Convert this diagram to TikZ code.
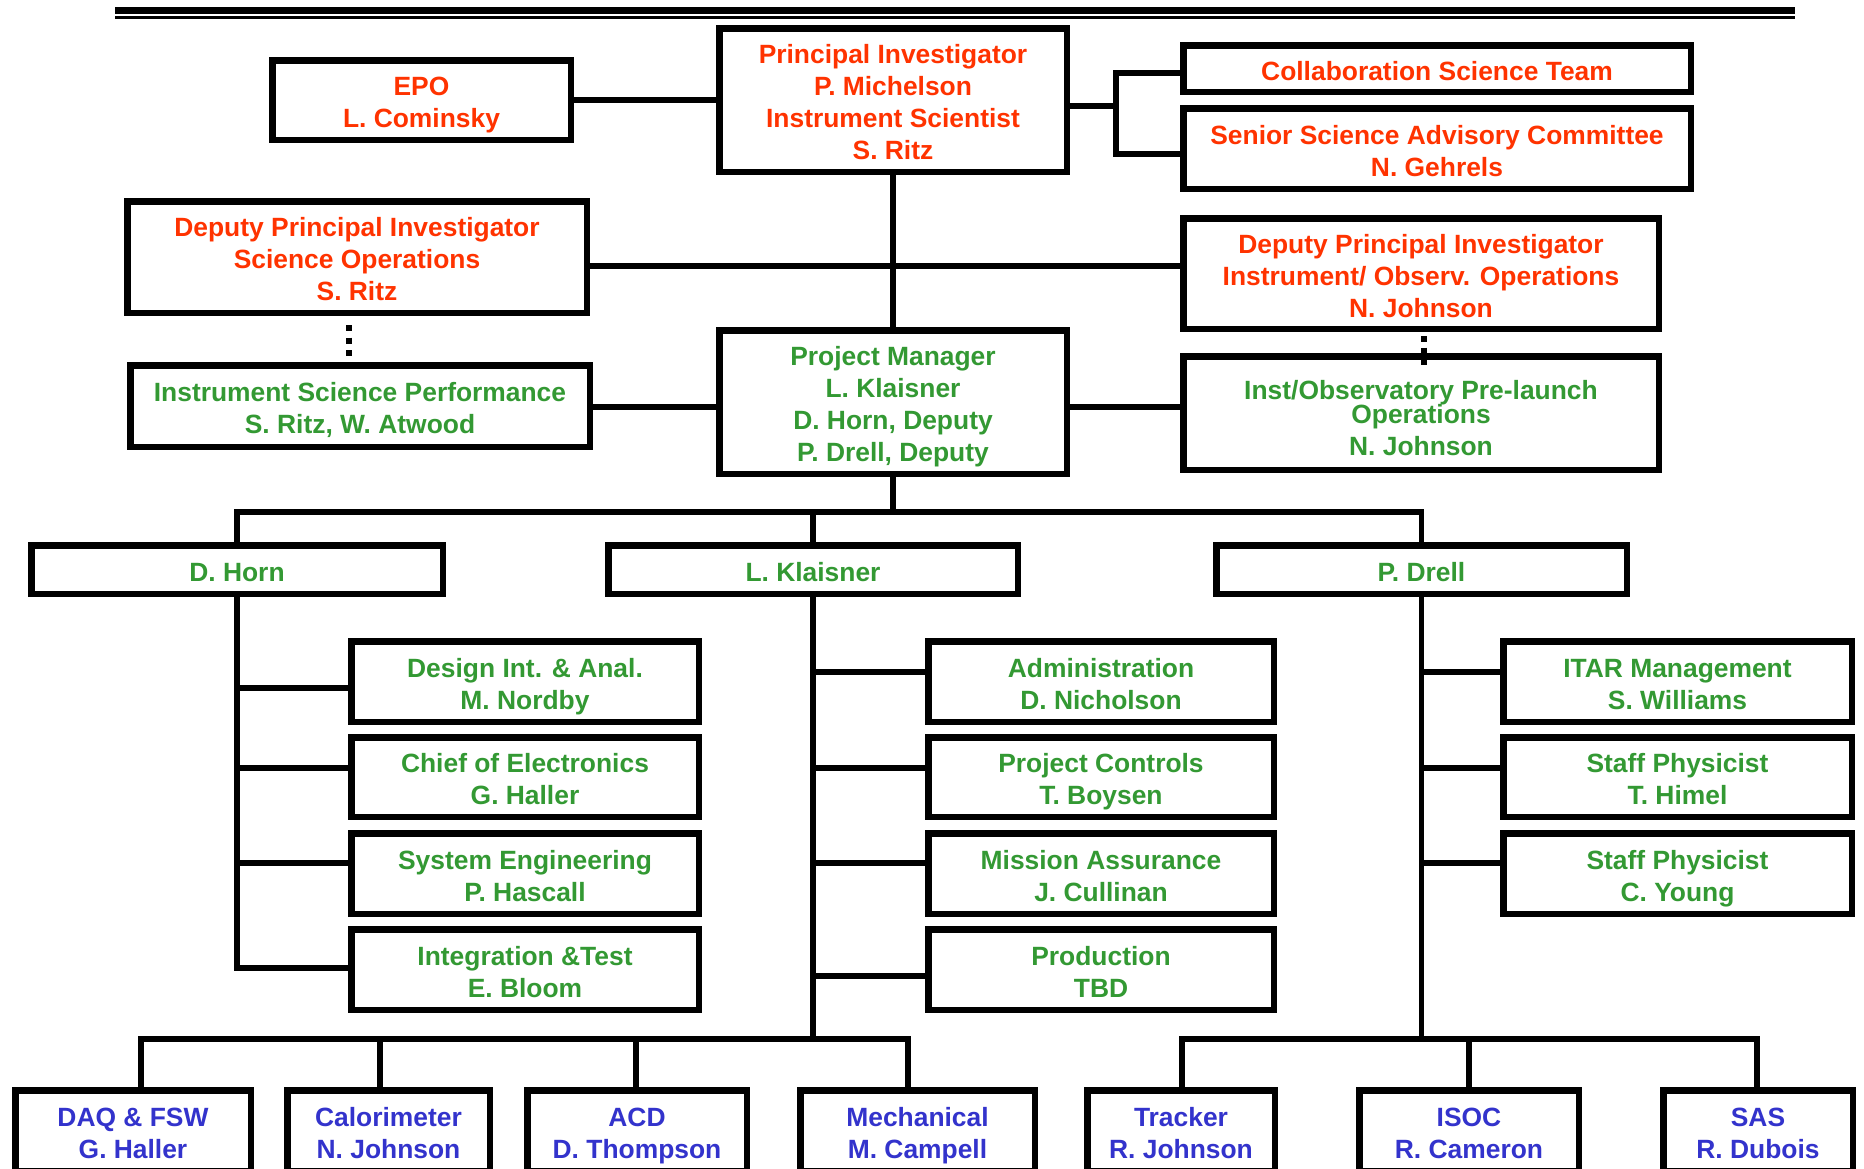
\documentclass[tikz,border=0pt]{standalone}
\usepackage{fontspec}
\setmainfont{Liberation Sans}
\definecolor{ored}{HTML}{FF3300}
\definecolor{ogreen}{HTML}{339933}
\definecolor{oblue}{HTML}{3333CC}
\tikzset{
  orgbox/.style={draw=black, line width=6.5pt, inner sep=1pt, align=center,
    font=\bfseries\fontsize{26.4}{32}\selectfont},
  conn/.style={line width=5.5pt, draw=black},
  dotconn/.style={line width=6pt, draw=black},
}
\newcommand\obox[7]{\node[orgbox, text=#6, minimum width={#4-#2-6.5}, minimum height={#5-#3-6.5}] (#1) at ({(#2+#4)/2},{(#3+#5)/2}) {\rule{0pt}{30pt}#7\rule[-7pt]{0pt}{7pt}};}
\begin{document}
\begin{tikzpicture}[x=1pt,y=-1pt]
\useasboundingbox (0,0) rectangle (1864,1168);
\clip (0,0) rectangle (1864,1168);
\fill[white] (0,0) rectangle (1864,1168);
% top rules
\draw[line width=7pt] (115,10.5) -- (1795,10.5);
\draw[line width=3pt] (115,17.5) -- (1795,17.5);
% boxes (outer edges)
\obox{epo}{269}{57}{574}{143}{ored}{EPO\\L. Cominsky}
\obox{pi}{716}{25}{1070}{175}{ored}{Principal Investigator\\P. Michelson\\Instrument Scientist\\S. Ritz}
\obox{collab}{1180}{42}{1694}{95}{ored}{Collaboration Science Team}
\obox{senior}{1180}{105}{1694}{192}{ored}{Senior Science Advisory Committee\\N. Gehrels}
\obox{dpis}{124}{198}{590}{316}{ored}{Deputy Principal Investigator\\Science Operations\\S. Ritz}
\obox{dpii}{1180}{215}{1662}{332}{ored}{Deputy Principal Investigator\\Instrument/ Observ. Operations\\N. Johnson}
\obox{isp}{127}{362}{593}{450}{ogreen}{Instrument Science Performance\\S. Ritz, W. Atwood}
\obox{pm}{716}{327}{1070}{477}{ogreen}{Project Manager\\L. Klaisner\\D. Horn, Deputy\\P. Drell, Deputy}
\obox{instobs}{1180}{353}{1662}{473}{ogreen}{\rule{0pt}{36pt}Inst/Observatory Pre-launch\\[-8pt]Operations\\N. Johnson}
\obox{horn}{28}{542}{446}{597}{ogreen}{D. Horn}
\obox{klaisner}{605}{542}{1021}{597}{ogreen}{L. Klaisner}
\obox{drell}{1213}{542}{1630}{597}{ogreen}{P. Drell}
\obox{design}{348}{638}{702}{725}{ogreen}{Design Int. \& Anal.\\M. Nordby}
\obox{chief}{348}{734}{702}{820}{ogreen}{Chief of Electronics\\G. Haller}
\obox{syseng}{348}{830}{702}{917}{ogreen}{System Engineering\\P. Hascall}
\obox{inttest}{348}{926}{702}{1013}{ogreen}{Integration \&Test\\E. Bloom}
\obox{admin}{925}{638}{1277}{725}{ogreen}{Administration\\D. Nicholson}
\obox{projctrl}{925}{734}{1277}{820}{ogreen}{Project Controls\\T. Boysen}
\obox{mission}{925}{830}{1277}{917}{ogreen}{Mission Assurance\\J. Cullinan}
\obox{prod}{925}{926}{1277}{1013}{ogreen}{Production\\TBD}
\obox{itar}{1500}{638}{1855}{725}{ogreen}{ITAR Management\\S. Williams}
\obox{himel}{1500}{734}{1855}{820}{ogreen}{Staff Physicist\\T. Himel}
\obox{young}{1500}{830}{1855}{917}{ogreen}{Staff Physicist\\C. Young}
\obox{daq}{12}{1087}{254}{1174}{oblue}{DAQ \& FSW\\G. Haller}
\obox{cal}{284}{1087}{493}{1174}{oblue}{Calorimeter\\N. Johnson}
\obox{acd}{524}{1087}{750}{1174}{oblue}{ACD\\D. Thompson}
\obox{mech}{797}{1087}{1038}{1174}{oblue}{Mechanical\\M. Campell}
\obox{tracker}{1084}{1087}{1278}{1174}{oblue}{Tracker\\R. Johnson}
\obox{isoc}{1356}{1087}{1582}{1174}{oblue}{ISOC\\R. Cameron}
\obox{sas}{1660}{1087}{1856}{1174}{oblue}{SAS\\R. Dubois}
% junction coordinates
\coordinate (brm) at (1116,106);
\coordinate (brt) at (1116,73);
\coordinate (brb) at (1116,154);
\coordinate (h1) at (893,266);
\coordinate (h2) at (893,407);
\coordinate (d1a) at (349,325);
\coordinate (d1b) at (349,356);
\coordinate (d2a) at (1424,336);
\coordinate (d2b) at (1424,365);
\coordinate (bus) at (893,512);
\coordinate (hz1) at (0,688);
\coordinate (hz2) at (0,768);
\coordinate (hz3) at (0,863);
\coordinate (hz4) at (0,968);
\coordinate (kz1) at (0,672);
\coordinate (kz4) at (0,976);
\coordinate (b1) at (141,1039);
\coordinate (b2) at (380,1039);
\coordinate (b3) at (636,1039);
\coordinate (b4) at (908,1039);
\coordinate (b5) at (1182,1039);
\coordinate (b6) at (1469,1039);
\coordinate (b7) at (1757,1039);
% top connectors
\draw[conn] (epo.east) -- (pi.west |- epo.east);
\draw[conn] (pi.east |- brm) -- (brm);
\draw[conn] (collab.west |- brt) -- (brt) -- (brb) -- (senior.west |- brb);
\draw[conn] (pi.south) -- (pm.north);
\draw[conn] (dpis.east |- h1) -- (dpii.west |- h1);
\draw[conn] (isp.east |- h2) -- (pm.west |- h2);
\draw[conn] (pm.east |- h2) -- (instobs.west |- h2);
\draw[dotconn, dash pattern=on 6pt off 6.5pt] (d1a) -- (d1b);
\draw[dotconn, dash pattern=on 6pt off 5.5pt] (d2a) -- (d2b);
% manager bus
\draw[conn] (pm.south) -- (pm.south |- bus);
\draw[conn] (horn.north) -- (horn.north |- bus) -- (drell.north |- bus) -- (drell.north);
\draw[conn] (klaisner.north |- bus) -- (klaisner.north);
% D. Horn branch
\draw[conn] (horn.south) -- (horn.south |- hz4) -- (inttest.west |- hz4);
\draw[conn] (horn.south |- hz1) -- (design.west |- hz1);
\draw[conn] (horn.south |- hz2) -- (chief.west |- hz2);
\draw[conn] (horn.south |- hz3) -- (syseng.west |- hz3);
% L. Klaisner branch
\draw[conn] (klaisner.south) -- (klaisner.south |- b1);
\draw[conn] (klaisner.south |- kz1) -- (admin.west |- kz1);
\draw[conn] (klaisner.south |- hz2) -- (projctrl.west |- hz2);
\draw[conn] (klaisner.south |- hz3) -- (mission.west |- hz3);
\draw[conn] (klaisner.south |- kz4) -- (prod.west |- kz4);
% P. Drell branch
\draw[conn] (drell.south) -- (drell.south |- b5);
\draw[conn] (drell.south |- kz1) -- (itar.west |- kz1);
\draw[conn] (drell.south |- hz2) -- (himel.west |- hz2);
\draw[conn] (drell.south |- hz3) -- (young.west |- hz3);
% bottom buses
\draw[conn] (daq.north -| b1) -- (b1) -- (b4) -- (mech.north -| b4);
\draw[conn] (b2) -- (cal.north -| b2);
\draw[conn] (b3) -- (acd.north -| b3);
\draw[conn] (tracker.north -| b5) -- (b5) -- (b7) -- (sas.north -| b7);
\draw[conn] (b6) -- (isoc.north -| b6);
\end{tikzpicture}
\end{document}
